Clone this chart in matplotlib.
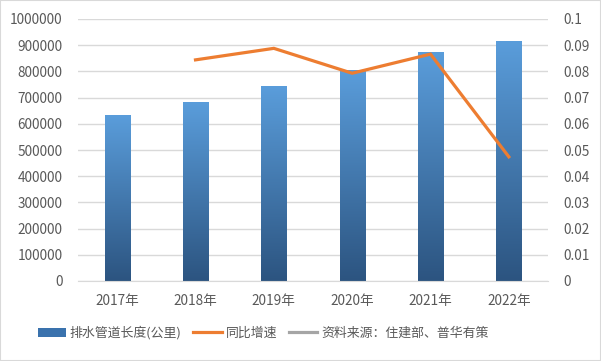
import numpy as np
import matplotlib.pyplot as plt
from matplotlib.colors import LinearSegmentedColormap
from matplotlib.patches import Rectangle
from matplotlib.lines import Line2D

plt.rcParams['font.family'] = ['Noto Sans CJK SC', 'DejaVu Sans']

# data
years = ['2017年', '2018年', '2019年', '2020年', '2021年', '2022年']
length_km = [630000, 683000, 744000, 805000, 874000, 916000]
growth_years = ['2018年', '2019年', '2020年', '2021年', '2022年']
growth = [0.0844, 0.0888, 0.0793, 0.0866, 0.0474]

bar_label = '排水管道长度(公里)'
line_label = '同比增速'
source_label = '资料来源：住建部、普华有策'

grid_c = '#d9d9d9'
text_c = '#595959'
orange = '#ed7d31'
gray = '#a5a5a5'

fig = plt.figure(figsize=(6.01, 3.61), dpi=100)
ax = fig.add_axes([78 / 601, 1 - 281 / 361, 470 / 601, 262 / 361])
ax2 = ax.twinx()

x = np.arange(len(years))
bars = ax.bar(x, length_km, width=0.32, color='none', zorder=2)

# vertical gradient fill for each bar
cmap = LinearSegmentedColormap.from_list('bar', ['#2c5480', '#5a9ddb'])
grad = np.linspace(0, 1, 256).reshape(-1, 1)
for b in bars:
    x0, w, h = b.get_x(), b.get_width(), b.get_height()
    ax.imshow(grad, cmap=cmap, origin='lower', aspect='auto',
              extent=[x0, x0 + w, 0, h], zorder=2)

ax.set_xlim(-0.5, len(years) - 0.5)
ax.set_ylim(0, 1000000)
ax.set_yticks(np.arange(0, 1000001, 100000))
ax.set_yticklabels([str(v) for v in range(0, 1000001, 100000)])
ax.set_xticks(x)
ax.set_xticklabels(years)
ax.yaxis.grid(True, color=grid_c, linewidth=1)
ax.set_axisbelow(True)

gx = [years.index(g) for g in growth_years]
ax2.plot(gx, growth, color=orange, linewidth=2.3, solid_joinstyle='miter', zorder=3)
ax2.set_ylim(0, 0.1)
ax2.set_yticks(np.arange(0, 0.1001, 0.01))
ax2.set_yticklabels(['0', '0.01', '0.02', '0.03', '0.04', '0.05',
                     '0.06', '0.07', '0.08', '0.09', '0.1'])

for a in (ax, ax2):
    for s in a.spines.values():
        s.set_visible(False)
    a.tick_params(length=0, colors=text_c, labelsize=9.8)
ax.spines['bottom'].set_visible(True)
ax.spines['bottom'].set_color(grid_c)
ax.tick_params(axis='y', pad=11)
ax2.tick_params(axis='y', pad=11)
ax.tick_params(axis='x', pad=9)

ax.set_zorder(ax2.get_zorder() - 1)
ax2.patch.set_visible(False)

handles = [
    Rectangle((0, 0), 1, 1, facecolor='#3a72ad', edgecolor='none'),
    Line2D([0], [0], color=orange, linewidth=2.3),
    Line2D([0], [0], color=gray, linewidth=2.3),
]
fig.legend(handles, [bar_label, line_label, source_label], loc='center',
           bbox_to_anchor=(263 / 601, 1 - 333 / 361), ncol=3, frameon=False,
           fontsize=9.3, labelcolor=text_c, handlelength=2.2,
           handletextpad=0.3, columnspacing=0.9)

# light border round the whole picture
fig.patches.append(Rectangle((0, 0), 1, 1, transform=fig.transFigure,
                             fill=False, edgecolor='#d9d9d9', linewidth=1.5))

fig.savefig('out.png', dpi=100)
